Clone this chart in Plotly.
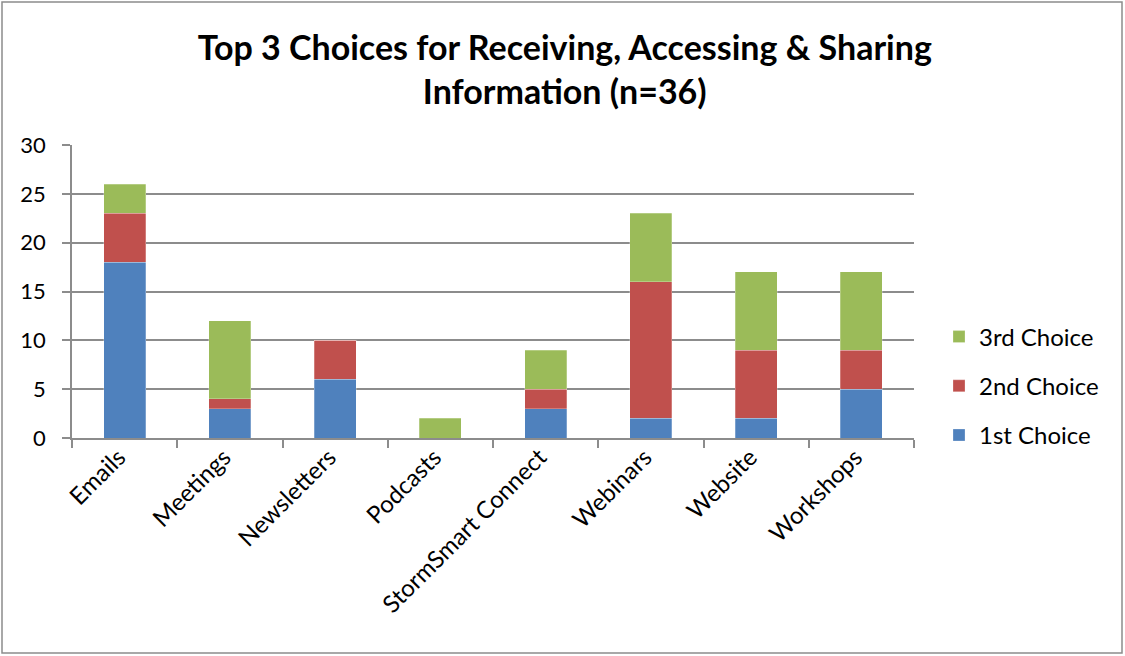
import plotly.graph_objects as go

categories = ["Emails", "Meetings", "Newsletters", "Podcasts", "StormSmart Connect",
              "Webinars", "Website", "Workshops"]
first_choice = [18, 3, 6, 0, 3, 2, 2, 5]
second_choice = [5, 1, 4, 0, 2, 14, 7, 4]
third_choice = [3, 8, 0, 2, 4, 7, 8, 8]

series = [
    ("1st Choice", first_choice, "#4F81BD", 3),
    ("2nd Choice", second_choice, "#C0504D", 2),
    ("3rd Choice", third_choice, "#9BBB59", 1),
]

FONT = "Lato, 'Open Sans', sans-serif"

fig = go.Figure()
for name, vals, color, rank in series:
    fig.add_trace(go.Bar(
        x=categories, y=vals, name=name, legendgroup=name, legendrank=rank,
        marker=dict(color=color, line=dict(color="rgba(255,255,255,0.5)", width=0.5)),
    ))

L, R, T, B = 72, 914, 145, 438
W, H = 1125, 656
pw, ph = R - L, B - T

fig.update_layout(
    width=W, height=H,
    barmode="stack", bargap=0.6,
    plot_bgcolor="white", paper_bgcolor="white",
    margin=dict(l=L, r=W - R, t=T, b=H - B, autoexpand=False),
    font=dict(family=FONT, color="black", size=20),
    title=dict(
        text="<b>Top 3 Choices for Receiving, Accessing & Sharing<br>Information (n=36)</b>",
        x=0.502, xanchor="center", y=1 - 60 / H, yanchor="middle",
        font=dict(size=34, family=FONT, color="black"),
    ),
    legend=dict(
        x=(939 - L) / pw, xanchor="left", y=(B - 386) / ph, yanchor="middle",
        traceorder="grouped", tracegroupgap=15,
        font=dict(size=24, family=FONT),
        itemwidth=30,
    ),
    showlegend=True,
)

fig.update_yaxes(
    range=[0, 30], dtick=5, showgrid=True, gridcolor="#8C8C8C", gridwidth=1.5,
    showline=True, linecolor="#8C8C8C", linewidth=1.5,
    ticks="outside", ticklen=8, tickcolor="#8C8C8C", tickwidth=1.5,
    tickfont=dict(size=22, family=FONT), zeroline=False, ticklabelstandoff=12,
)
fig.update_xaxes(
    showline=True, linecolor="#8C8C8C", linewidth=1.5,
    ticks="outside", ticklen=8, tickcolor="#8C8C8C", tickwidth=1.5,
    tickson="boundaries", tickangle=-45, ticklabelshift=-6, ticklabelstandoff=-6,
    tickfont=dict(size=24, family=FONT),
)

# outer chart border
fig.add_shape(
    type="rect", xref="paper", yref="paper",
    x0=(2 - L) / pw, x1=(1122 - L) / pw,
    y0=(B - 653) / ph, y1=(B - 2) / ph,
    line=dict(color="#8C8C8C", width=1.5), fillcolor="rgba(0,0,0,0)", layer="below",
)

fig.write_html("out.html", config={"displayModeBar": False},
               post_script="document.body.style.margin='0';document.body.style.overflow='hidden';")
